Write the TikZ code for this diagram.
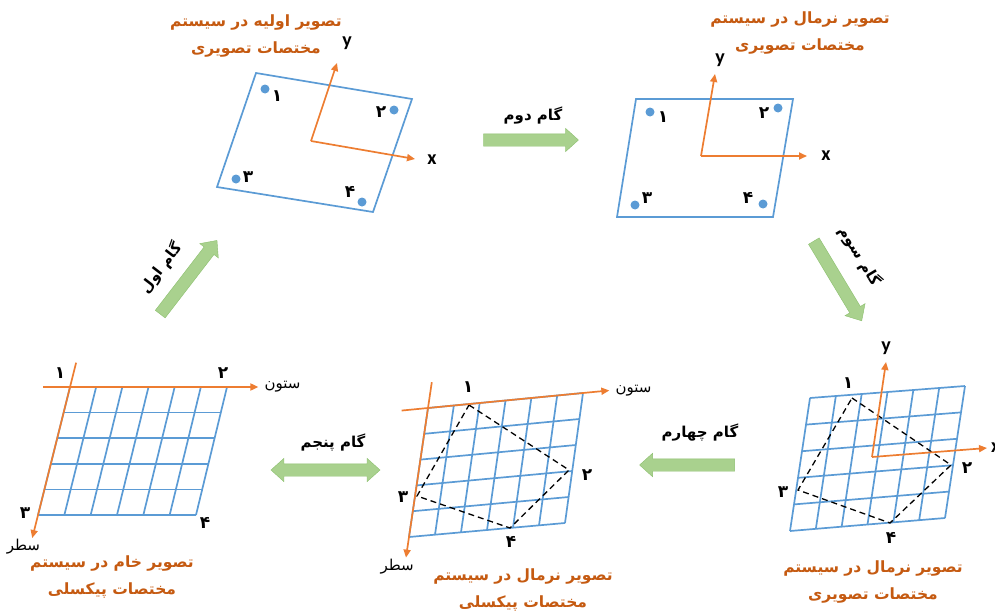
\documentclass[tikz,border=0pt]{standalone}
\usepackage{fontspec}
\usepackage{tikz}
\usetikzlibrary{positioning, arrows.meta, shapes, calc}
\TeXXeTstate=1
\newfontfamily\fa[Script=Arabic]{DejaVu Sans}
\newfontfamily\lat{Carlito}
\definecolor{gridblue}{HTML}{5B9BD5}
\definecolor{axisorange}{HTML}{ED7D31}
\definecolor{titleorange}{HTML}{C55A11}
\definecolor{stepgreen}{HTML}{A9D18E}
\definecolor{stepedge}{HTML}{8CBF6E}

\begin{document}
\begin{tikzpicture}[x=1pt, y=-1pt,
    ttl/.style={text=titleorange, font=\fa\bfseries\fontsize{15.5}{27}\selectfont, align=center},
    steplbl/.style={font=\fa\bfseries\fontsize{15}{17}\selectfont},
    num/.style={font=\fa\bfseries\fontsize{17}{19}\selectfont, inner sep=0pt},
    axname/.style={font=\fa\fontsize{15}{17}\selectfont, inner sep=0pt},
    axlbl/.style={font=\lat\bfseries\fontsize{20}{22}\selectfont, inner sep=0pt},
    frame/.style={draw=gridblue, line width=1.7pt},
    gridln/.style={draw=gridblue, line width=1.7pt},
    axis/.style={draw=axisorange, line width=1.7pt, -{Triangle[length=8pt,width=7pt]}},
    pt/.style={circle, fill=gridblue, inner sep=0pt, minimum size=9pt},
    diag/.style={draw=black, line width=1.3pt, dash pattern=on 6pt off 4pt},
    stepar/.style={single arrow, draw=stepedge, fill=stepgreen, inner xsep=0pt, inner ysep=6pt,
        minimum width=23pt, single arrow head extend=5.5pt, single arrow tip angle=84},
    steparr/.style={double arrow, draw=stepedge, fill=stepgreen, inner xsep=0pt, inner ysep=6pt,
        minimum width=23pt, double arrow head extend=5.5pt, double arrow tip angle=84}]
    \useasboundingbox (0,0) rectangle (995,613);

    % Panel 1: initial image
    \coordinate (a1) at (256,73);
    \coordinate (a2) at (412,99);
    \coordinate (a4) at (373,212);
    \coordinate (a3) at (217,187);
    \draw[frame] (a1) -- (a2) -- (a4) -- (a3) -- cycle;
    \node[pt] (pa1) at (265,89) {};
    \node[pt] (pa2) at (394,110) {};
    \node[pt] (pa3) at (236,179) {};
    \node[pt] (pa4) at (362,202) {};
    \node[num] (na1) at (277,96) {۱};
    \node[num] (na2) at (381,112) {۲};
    \node[num] (na3) at (248,177) {۳};
    \node[num] (na4) at (350,192) {۴};
    \coordinate (oa) at (311,141);
    \coordinate (xa) at (415,159);
    \coordinate (ya) at (337,63);
    \draw[axis] (oa) -- (xa);
    \draw[axis] (oa) -- (ya);
    \node[axlbl] (xla) at (432,160) {x};
    \node[axlbl] (yla) at (347,43) {y};
    \node[ttl] (ta) at (256,36) {\beginR تصویر اولیه در سیستم\endR\\\beginR مختصات تصویری\endR};

    % Panel 2: normalised image
    \coordinate (b1) at (636,99);
    \coordinate (b2) at (793,99);
    \coordinate (b4) at (773,217);
    \coordinate (b3) at (617,217);
    \draw[frame] (b1) -- (b2) -- (b4) -- (b3) -- cycle;
    \node[pt] (pb1) at (650,112) {};
    \node[pt] (pb2) at (778,108) {};
    \node[pt] (pb3) at (635,205) {};
    \node[pt] (pb4) at (763,204) {};
    \node[num] (nb1) at (663,117) {۱};
    \node[num] (nb2) at (764,113) {۲};
    \node[num] (nb3) at (647,198) {۳};
    \node[num] (nb4) at (748,198) {۴};
    \coordinate (ob) at (701,156);
    \coordinate (xb) at (807,156);
    \coordinate (yb) at (715,74);
    \draw[axis] (ob) -- (xb);
    \draw[axis] (ob) -- (yb);
    \node[axlbl] (xlb) at (826,156) {x};
    \node[axlbl] (ylb) at (720,60) {y};
    \node[ttl] (tb) at (800,33) {\beginR تصویر نرمال در سیستم\endR\\\beginR مختصات تصویری\endR};

    % Panel 3: normalised image on the pixel grid
    \coordinate (c1) at (810,398);
    \coordinate (c2) at (965,386);
    \coordinate (c3) at (790,531);
    \coordinate (c4) at (945,518);
    \foreach \i in {0,...,5}
        \draw[gridln] ($(c1)!\i/5!(c3)$) -- ($(c2)!\i/5!(c4)$);
    \foreach \j in {0,...,6}
        \draw[gridln] ($(c1)!\j/6!(c2)$) -- ($(c3)!\j/6!(c4)$);
    \coordinate (dc1) at (852,398);
    \coordinate (dc2) at (951,465);
    \coordinate (dc4) at (890,523);
    \coordinate (dc3) at (798,490);
    \draw[diag] (dc1) -- (dc2) -- (dc4) -- (dc3) -- cycle;
    \coordinate (oc) at (872,457);
    \coordinate (xc) at (987,448);
    \coordinate (yc) at (886,362);
    \draw[axis] (oc) -- (xc);
    \draw[axis] (oc) -- (yc);
    \node[axlbl, anchor=west] (xlc) at (991,448) {x};
    \node[axlbl] (ylc) at (886,348) {y};
    \node[num] (nc1) at (848,383) {۱};
    \node[num] (nc2) at (967,468) {۲};
    \node[num] (nc3) at (783,492) {۳};
    \node[num] (nc4) at (891,538) {۴};
    \node[ttl] (tc) at (873,582) {\beginR تصویر نرمال در سیستم\endR\\\beginR مختصات تصویری\endR};

    % Panel 4: normalised image in pixel coordinates
    \coordinate (d1) at (428,408);
    \coordinate (d2) at (583,393);
    \coordinate (d3) at (409,537);
    \coordinate (d4) at (565,523);
    \foreach \i in {0,...,5}
        \draw[gridln] ($(d1)!\i/5!(d3)$) -- ($(d2)!\i/5!(d4)$);
    \foreach \j in {0,...,6}
        \draw[gridln] ($(d1)!\j/6!(d2)$) -- ($(d3)!\j/6!(d4)$);
    \coordinate (dd1) at (469,405);
    \coordinate (dd2) at (569,470);
    \coordinate (dd4) at (510,528);
    \coordinate (dd3) at (417,496);
    \draw[diag] (dd1) -- (dd2) -- (dd4) -- (dd3) -- cycle;
    \draw[axis] ($(d1)!-0.17!(d2)$) coordinate (cold) -- ($(d1)!1.17!(d2)$) coordinate (cold');
    \draw[axis] ($(d1)!-0.2!(d3)$) coordinate (rowd) -- ($(d1)!1.16!(d3)$) coordinate (rowd');
    \node[axname, right=6pt of cold'] (cnd) {\beginR ستون\endR};
    \node[axname, below left=1pt and -8pt of rowd'] (rnd) {\beginR سطر\endR};
    \node[num] (nd1) at (468,387) {۱};
    \node[num] (nd2) at (587,475) {۲};
    \node[num] (nd3) at (403,497) {۳};
    \node[num] (nd4) at (511,542) {۴};
    \node[ttl] (td) at (523,590) {\beginR تصویر نرمال در سیستم\endR\\\beginR مختصات پیکسلی\endR};

    % Panel 5: raw image in pixel coordinates
    \coordinate (e1) at (70,387);
    \coordinate (e2) at (227,387);
    \coordinate (e3) at (38,515);
    \coordinate (e4) at (196,515);
    \foreach \i in {0,...,5}
        \draw[gridln] ($(e1)!\i/5!(e3)$) -- ($(e2)!\i/5!(e4)$);
    \foreach \j in {0,...,6}
        \draw[gridln] ($(e1)!\j/6!(e2)$) -- ($(e3)!\j/6!(e4)$);
    \draw[axis] ($(e1)!-0.17!(e2)$) coordinate (cole) -- ($(e1)!1.2!(e2)$) coordinate (cole');
    \draw[axis] ($(e1)!-0.19!(e3)$) coordinate (rowe) -- ($(e1)!1.18!(e3)$) coordinate (rowe');
    \node[axname, right=6pt of cole'] (cne) {\beginR ستون\endR};
    \node[axname, below left=1pt and -8pt of rowe'] (rne) {\beginR سطر\endR};
    \node[num] (ne1) at (60,373) {۱};
    \node[num] (ne2) at (223,373) {۲};
    \node[num] (ne3) at (25,513) {۳};
    \node[num] (ne4) at (205,523) {۴};
    \node[ttl] (te) at (112,577) {\beginR تصویر خام در سیستم\endR\\\beginR مختصات پیکسلی\endR};

    % Steps
    \node[stepar, minimum height=93pt, rotate=52.4] (s1) at (186.5,280) {};
    \node[steplbl, rotate=52.4] (l1) at (161,268) {\beginR گام اول\endR};
    \node[stepar, minimum height=95pt] (s2) at (527.5,140) {};
    \node[steplbl] (l2) at (533,116) {\beginR گام دوم\endR};
    \node[stepar, minimum height=93pt, rotate=-59] (s3) at (836,278) {};
    \node[steplbl, rotate=-59] (l3) at (860,256) {\beginR گام سوم\endR};
    \node[stepar, minimum height=95pt, rotate=180] (s4) at (690.5,465) {};
    \node[steplbl] (l4) at (700,433) {\beginR گام چهارم\endR};
    \node[steparr, minimum height=109pt] (s5) at (325.5,470) {};
    \node[steplbl] (l5) at (333,443) {\beginR گام پنجم\endR};
\end{tikzpicture}
\end{document}
